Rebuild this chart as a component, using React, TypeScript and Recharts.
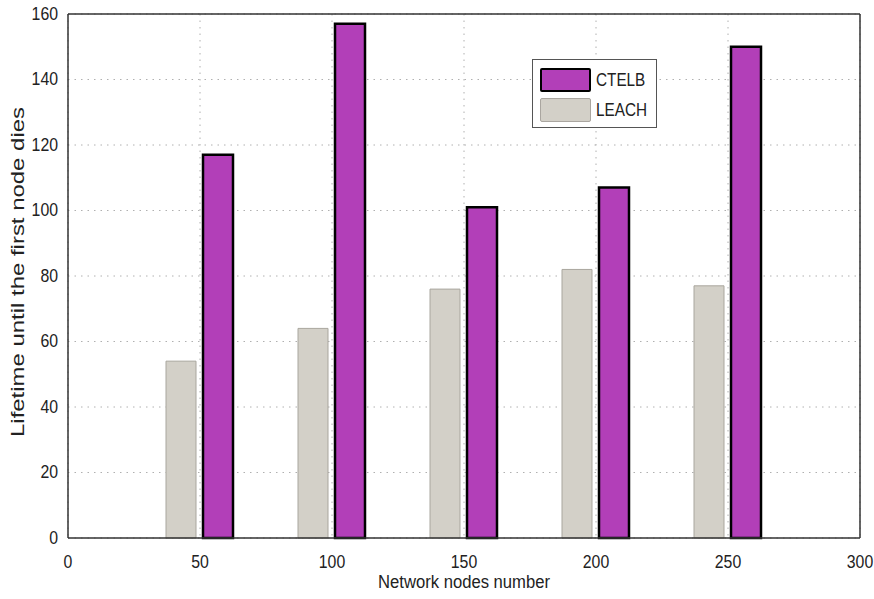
import { Bar, BarChart, CartesianGrid, Legend, ReferenceLine, XAxis, YAxis } from "recharts"

const nodes = [50, 100, 150, 200, 250]
const ctelb = [117, 157, 101, 107, 150]
const leach = [54, 64, 76, 82, 77]
const xTicks = [0, 50, 100, 150, 200, 250, 300]
const yTicks = [0, 20, 40, 60, 80, 100, 120, 140, 160]

const data = nodes.map((n, i) => ({ nodes: n, CTELB: ctelb[i], LEACH: leach[i] }))

const font = "'Liberation Sans', Arial, sans-serif"

// tall, narrow text like the scanned original
function XTick(props: any) {
  const { x, y, payload } = props
  return (
    <text x={x} y={y + 14} textAnchor="middle" fontFamily={font} fontSize={18} fill="#222"
      transform={`translate(${x} ${y}) scale(0.88 1) translate(${-x} ${-y})`}>
      {payload.value}
    </text>
  )
}

function YTick(props: any) {
  const { x, y, payload } = props
  return (
    <text x={x} y={y + 6} textAnchor="end" fontFamily={font} fontSize={18} fill="#222"
      transform={`translate(${x} ${y}) scale(0.88 1) translate(${-x} ${-y})`}>
      {payload.value}
    </text>
  )
}

function LegendBox() {
  return (
    <div
      style={{
        width: 125,
        height: 69,
        border: "1.5px solid #555",
        background: "#fff",
        fontFamily: font,
        fontSize: 18,
        color: "#222",
        boxSizing: "border-box",
        paddingTop: 7,
        paddingLeft: 7,
      }}
    >
      <div style={{ display: "flex", alignItems: "center", height: 26 }}>
        <div style={{ width: 47, height: 20, background: "#b23fb8", border: "2.5px solid #000", borderRadius: 2 }} />
        <span style={{ marginLeft: 5, transform: "scaleX(0.85)", transformOrigin: "left" }}>CTELB</span>
      </div>
      <div style={{ display: "flex", alignItems: "center", height: 26, marginTop: 4 }}>
        <div style={{ width: 50, height: 22, background: "#d3d0c8", border: "1px solid #aaa6a0", borderRadius: 2 }} />
        <span style={{ marginLeft: 5, transform: "scaleX(0.85)", transformOrigin: "left" }}>LEACH</span>
      </div>
    </div>
  )
}

export default function App() {
  return (
    <div style={{ position: "absolute", left: 0, top: 0, background: "#fff" }}>
      <BarChart
        width={874}
        height={599}
        data={data}
        margin={{ top: 14, right: 14, left: 0, bottom: 0 }}
        barSize={30}
        barGap={7}
      >
        <CartesianGrid stroke="#b0b0b0" strokeDasharray="1.5 5" />
        <XAxis
          type="number"
          dataKey="nodes"
          domain={[0, 300]}
          ticks={xTicks}
          height={61}
          stroke="#333"
          strokeWidth={1.5}
          tickLine={false}
          tick={<XTick />}
          tickMargin={10}
          label={(props: any) => {
            const vb = props.viewBox
            return (
              <text
                x={vb.x + vb.width / 2}
                y={588}
                textAnchor="middle"
                fontFamily={font}
                fontSize={18}
                fill="#222"
                textLength={172}
                lengthAdjust="spacingAndGlyphs"
              >
                Network nodes number
              </text>
            )
          }}
        />
        <YAxis
          domain={[0, 160]}
          ticks={yTicks}
          width={68}
          stroke="#333"
          strokeWidth={1.5}
          tickLine={false}
          tick={<YTick />}
          tickMargin={4}
          label={() => (
            <text
              x={24}
              y={272}
              transform="rotate(-90 24 272)"
              textAnchor="middle"
              fontFamily={font}
              fontSize={18}
              fill="#222"
              textLength={330}
              lengthAdjust="spacingAndGlyphs"
            >
              Lifetime until the first node dies
            </text>
          )}
        />
        <ReferenceLine y={160} stroke="#333" strokeWidth={1.5} />
        <ReferenceLine x={300} stroke="#333" strokeWidth={1.5} />
        <Legend
          layout="vertical"
          align="center"
          verticalAlign="middle"
          content={() => <LegendBox />}
          wrapperStyle={{ left: 532, top: 59, width: 127 }}
        />
        <Bar dataKey="LEACH" fill="#d3d0c8" stroke="#a9a69e" strokeWidth={1} isAnimationActive={false} />
        <Bar dataKey="CTELB" fill="#b23fb8" stroke="#000" strokeWidth={2.5} isAnimationActive={false} />
      </BarChart>
    </div>
  )
}
